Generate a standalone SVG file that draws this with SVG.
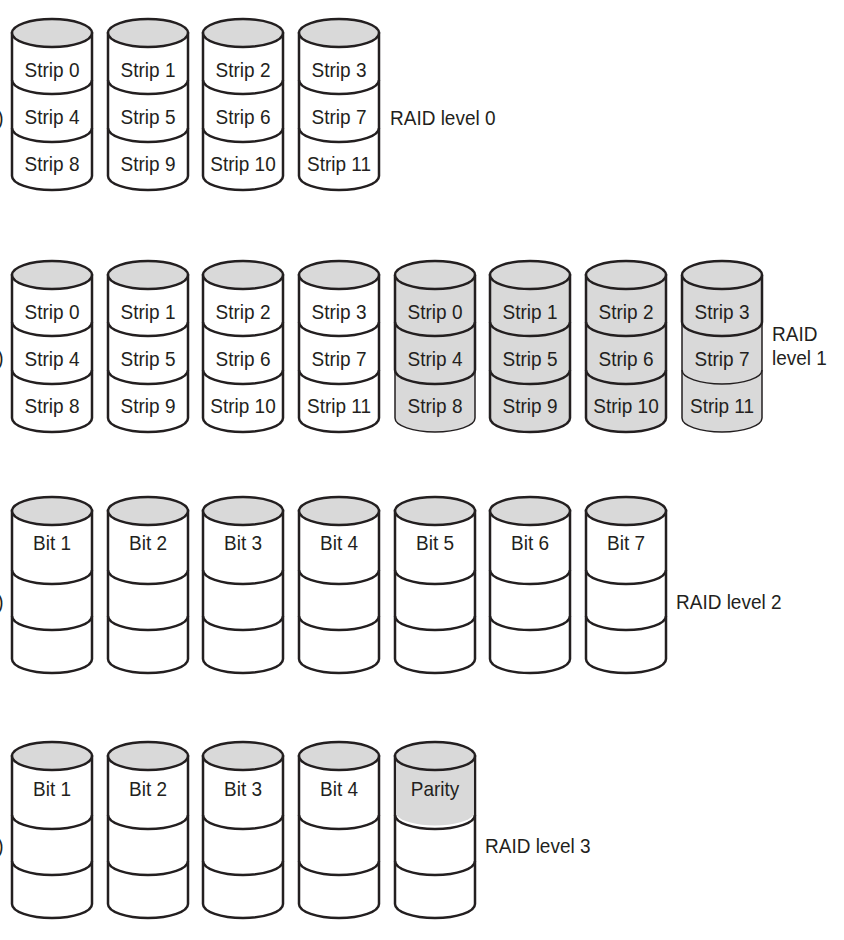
<svg xmlns="http://www.w3.org/2000/svg" width="844" height="940" viewBox="0 0 844 940">
<style>
.body{fill:#fff;stroke:#231f20;stroke-width:2.5}
.bodyg{fill:#d9d9d9;stroke:#231f20;stroke-width:2.5}
.bodyt{fill:#d9d9d9;stroke:#231f20;stroke-width:1.5}
.top{fill:#d9d9d9;stroke:#231f20;stroke-width:2.5}
.div{fill:none;stroke:#231f20;stroke-width:2.5}
.thin{fill:none;stroke:#231f20;stroke-width:1.5}
.band{fill:#d9d9d9;stroke:none}
text{font-family:"Liberation Sans",Arial,sans-serif;font-size:19px;fill:#231f20;transform-box:fill-box;transform-origin:50% 50%;transform:scaleY(1.1)}
.c{text-anchor:middle}
.e{text-anchor:end}
</style>
<defs>
<path id="bodyShape" d="M0,15 V158 A40,14 0 0 0 80,158 V15 Z"/>
<path id="d1" d="M0,62 A40,14 0 0 0 80,62"/>
<path id="d2" d="M0,110 A40,14 0 0 0 80,110"/>
<path id="bodyShapeB" d="M0,15 V163 A40,14 0 0 0 80,163 V15 Z"/>
<path id="d1b" d="M0,74 A40,14 0 0 0 80,74"/>
<path id="d2b" d="M0,120 A40,14 0 0 0 80,120"/>
<ellipse id="topE" cx="40" cy="15" rx="40" ry="14"/>
</defs>

<!-- RAID level 0 -->
<g id="r0d0" transform="translate(12,18)"><use href="#bodyShape" class="body"/><use href="#d1" class="div"/><use href="#d2" class="div"/><use href="#topE" class="top"/><text class="c" x="40" y="58">Strip 0</text><text class="c" x="40" y="105">Strip 4</text><text class="c" x="40" y="152">Strip 8</text></g>
<g id="r0d1" transform="translate(108,18)"><use href="#bodyShape" class="body"/><use href="#d1" class="div"/><use href="#d2" class="div"/><use href="#topE" class="top"/><text class="c" x="40" y="58">Strip 1</text><text class="c" x="40" y="105">Strip 5</text><text class="c" x="40" y="152">Strip 9</text></g>
<g id="r0d2" transform="translate(203,18)"><use href="#bodyShape" class="body"/><use href="#d1" class="div"/><use href="#d2" class="div"/><use href="#topE" class="top"/><text class="c" x="40" y="58">Strip 2</text><text class="c" x="40" y="105">Strip 6</text><text class="c" x="40" y="152">Strip 10</text></g>
<g id="r0d3" transform="translate(299,18)"><use href="#bodyShape" class="body"/><use href="#d1" class="div"/><use href="#d2" class="div"/><use href="#topE" class="top"/><text class="c" x="40" y="58">Strip 3</text><text class="c" x="40" y="105">Strip 7</text><text class="c" x="40" y="152">Strip 11</text></g>
<g id="label0"><text x="390" y="124">RAID level 0</text><text class="e" x="3.5" y="124">(a)</text></g>

<!-- RAID level 1 -->
<g id="r1d0" transform="translate(12,260)"><use href="#bodyShape" class="body"/><use href="#d1" class="div"/><use href="#d2" class="div"/><use href="#topE" class="top"/><text class="c" x="40" y="58">Strip 0</text><text class="c" x="40" y="105">Strip 4</text><text class="c" x="40" y="152">Strip 8</text></g>
<g id="r1d1" transform="translate(108,260)"><use href="#bodyShape" class="body"/><use href="#d1" class="div"/><use href="#d2" class="div"/><use href="#topE" class="top"/><text class="c" x="40" y="58">Strip 1</text><text class="c" x="40" y="105">Strip 5</text><text class="c" x="40" y="152">Strip 9</text></g>
<g id="r1d2" transform="translate(203,260)"><use href="#bodyShape" class="body"/><use href="#d1" class="div"/><use href="#d2" class="div"/><use href="#topE" class="top"/><text class="c" x="40" y="58">Strip 2</text><text class="c" x="40" y="105">Strip 6</text><text class="c" x="40" y="152">Strip 10</text></g>
<g id="r1d3" transform="translate(299,260)"><use href="#bodyShape" class="body"/><use href="#d1" class="div"/><use href="#d2" class="div"/><use href="#topE" class="top"/><text class="c" x="40" y="58">Strip 3</text><text class="c" x="40" y="105">Strip 7</text><text class="c" x="40" y="152">Strip 11</text></g>
<g id="r1d4" transform="translate(395,260)"><use href="#bodyShape" class="bodyt"/><path class="div" d="M0,15 V110 M80,15 V110"/><use href="#d1" class="div"/><use href="#d2" class="div"/><use href="#topE" class="top"/><text class="c" x="40" y="58">Strip 0</text><text class="c" x="40" y="105">Strip 4</text><text class="c" x="40" y="152">Strip 8</text></g>
<g id="r1d5" transform="translate(490,260)"><use href="#bodyShape" class="bodyg"/><use href="#d1" class="div"/><use href="#d2" class="div"/><use href="#topE" class="top"/><text class="c" x="40" y="58">Strip 1</text><text class="c" x="40" y="105">Strip 5</text><text class="c" x="40" y="152">Strip 9</text></g>
<g id="r1d6" transform="translate(586,260)"><use href="#bodyShape" class="bodyg"/><use href="#d1" class="div"/><use href="#d2" class="div"/><use href="#topE" class="top"/><text class="c" x="40" y="58">Strip 2</text><text class="c" x="40" y="105">Strip 6</text><text class="c" x="40" y="152">Strip 10</text></g>
<g id="r1d7" transform="translate(682,260)"><use href="#bodyShape" class="bodyt"/><path class="div" d="M0,15 V62 M80,15 V62"/><use href="#d1" class="div"/><use href="#d2" class="thin"/><use href="#topE" class="top"/><text class="c" x="40" y="58">Strip 3</text><text class="c" x="40" y="105">Strip 7</text><text class="c" x="40" y="152">Strip 11</text></g>
<g id="label1"><text x="772" y="340">RAID</text><text x="772" y="364">level 1</text><text class="e" x="3.5" y="364">(b)</text></g>

<!-- RAID level 2 -->
<g id="r2d0" transform="translate(12,496)"><use href="#bodyShapeB" class="body"/><use href="#d1b" class="div"/><use href="#d2b" class="div"/><use href="#topE" class="top"/><text class="c" x="40" y="53">Bit 1</text></g>
<g id="r2d1" transform="translate(108,496)"><use href="#bodyShapeB" class="body"/><use href="#d1b" class="div"/><use href="#d2b" class="div"/><use href="#topE" class="top"/><text class="c" x="40" y="53">Bit 2</text></g>
<g id="r2d2" transform="translate(203,496)"><use href="#bodyShapeB" class="body"/><use href="#d1b" class="div"/><use href="#d2b" class="div"/><use href="#topE" class="top"/><text class="c" x="40" y="53">Bit 3</text></g>
<g id="r2d3" transform="translate(299,496)"><use href="#bodyShapeB" class="body"/><use href="#d1b" class="div"/><use href="#d2b" class="div"/><use href="#topE" class="top"/><text class="c" x="40" y="53">Bit 4</text></g>
<g id="r2d4" transform="translate(395,496)"><use href="#bodyShapeB" class="body"/><use href="#d1b" class="div"/><use href="#d2b" class="div"/><use href="#topE" class="top"/><text class="c" x="40" y="53">Bit 5</text></g>
<g id="r2d5" transform="translate(490,496)"><use href="#bodyShapeB" class="body"/><use href="#d1b" class="div"/><use href="#d2b" class="div"/><use href="#topE" class="top"/><text class="c" x="40" y="53">Bit 6</text></g>
<g id="r2d6" transform="translate(586,496)"><use href="#bodyShapeB" class="body"/><use href="#d1b" class="div"/><use href="#d2b" class="div"/><use href="#topE" class="top"/><text class="c" x="40" y="53">Bit 7</text></g>
<g id="label2"><text x="676" y="608">RAID level 2</text><text class="e" x="3.5" y="608">(c)</text></g>

<!-- RAID level 3 -->
<g id="r3d0" transform="translate(12,741)"><use href="#bodyShapeB" class="body"/><use href="#d1b" class="div"/><use href="#d2b" class="div"/><use href="#topE" class="top"/><text class="c" x="40" y="54">Bit 1</text></g>
<g id="r3d1" transform="translate(108,741)"><use href="#bodyShapeB" class="body"/><use href="#d1b" class="div"/><use href="#d2b" class="div"/><use href="#topE" class="top"/><text class="c" x="40" y="54">Bit 2</text></g>
<g id="r3d2" transform="translate(203,741)"><use href="#bodyShapeB" class="body"/><use href="#d1b" class="div"/><use href="#d2b" class="div"/><use href="#topE" class="top"/><text class="c" x="40" y="54">Bit 3</text></g>
<g id="r3d3" transform="translate(299,741)"><use href="#bodyShapeB" class="body"/><use href="#d1b" class="div"/><use href="#d2b" class="div"/><use href="#topE" class="top"/><text class="c" x="40" y="54">Bit 4</text></g>
<g id="r3d4" transform="translate(395,741)"><use href="#bodyShapeB" class="body"/><path class="band" d="M1.3,15 V74 A40,14 0 0 0 78.7,74 V15 Z"/><use href="#d1b" class="div"/><use href="#d2b" class="div"/><use href="#topE" class="top"/><text class="c" x="40" y="54">Parity</text></g>
<g id="label3"><text x="485" y="852">RAID level 3</text><text class="e" x="3.5" y="852">(d)</text></g>

<g id="connectors"/>
</svg>
